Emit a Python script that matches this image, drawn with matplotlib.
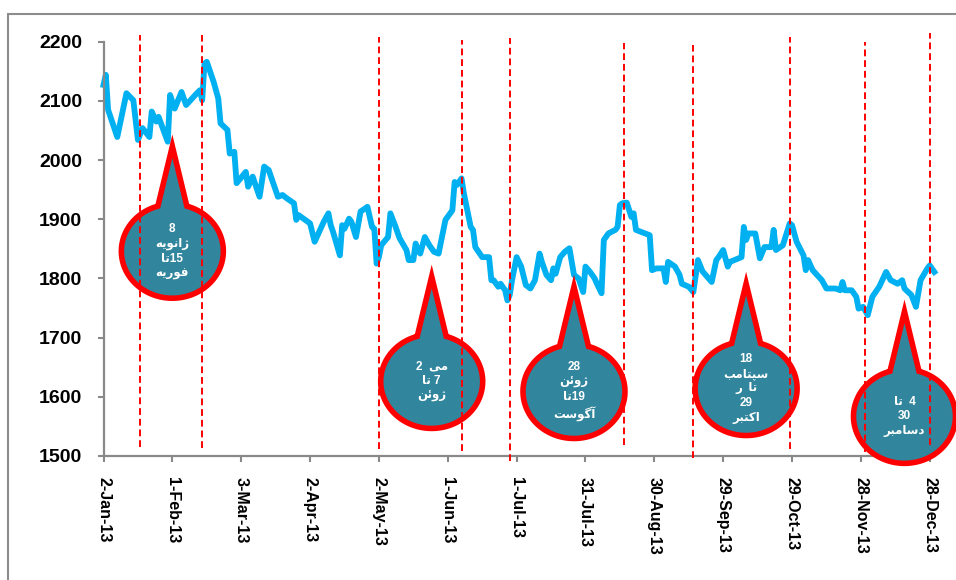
import re
import numpy as np
import pandas as pd
import matplotlib
matplotlib.use('Agg')
import matplotlib.pyplot as plt
import matplotlib.dates as mdates
from matplotlib.patches import Polygon, Rectangle
from matplotlib.transforms import ScaledTranslation

# price series
dates = ['2013-01-02', '2013-01-03', '2013-01-04', '2013-01-08', '2013-01-12', '2013-01-15',
         '2013-01-17', '2013-01-19', '2013-01-22', '2013-01-23', '2013-01-25', '2013-01-26',
         '2013-01-30', '2013-01-31', '2013-02-02', '2013-02-05', '2013-02-07', '2013-02-11',
         '2013-02-13', '2013-02-14', '2013-02-15', '2013-02-16', '2013-02-19', '2013-02-21',
         '2013-02-22', '2013-02-25', '2013-02-26', '2013-02-28', '2013-03-01', '2013-03-05',
         '2013-03-06', '2013-03-08', '2013-03-11', '2013-03-13', '2013-03-15', '2013-03-19',
         '2013-03-21', '2013-03-23', '2013-03-26', '2013-03-27', '2013-03-28', '2013-04-02',
         '2013-04-04', '2013-04-08', '2013-04-10', '2013-04-11', '2013-04-12', '2013-04-15',
         '2013-04-16', '2013-04-17', '2013-04-19', '2013-04-20', '2013-04-22', '2013-04-24',
         '2013-04-27', '2013-04-29', '2013-04-30', '2013-05-01', '2013-05-02', '2013-05-03',
         '2013-05-06', '2013-05-07', '2013-05-09', '2013-05-11', '2013-05-14', '2013-05-15',
         '2013-05-17', '2013-05-18', '2013-05-19', '2013-05-20', '2013-05-22', '2013-05-24',
         '2013-05-26', '2013-05-28', '2013-05-31', '2013-06-03', '2013-06-04', '2013-06-05',
         '2013-06-07', '2013-06-08', '2013-06-11', '2013-06-12', '2013-06-13', '2013-06-16',
         '2013-06-19', '2013-06-20', '2013-06-21', '2013-06-23', '2013-06-24', '2013-06-26',
         '2013-06-27', '2013-06-28', '2013-06-29', '2013-07-01', '2013-07-03', '2013-07-05',
         '2013-07-07', '2013-07-09', '2013-07-11', '2013-07-12', '2013-07-14', '2013-07-16',
         '2013-07-17', '2013-07-18', '2013-07-20', '2013-07-22', '2013-07-24', '2013-07-26',
         '2013-07-28', '2013-07-30', '2013-07-31', '2013-08-02', '2013-08-04', '2013-08-05',
         '2013-08-07', '2013-08-08', '2013-08-10', '2013-08-13', '2013-08-14', '2013-08-15',
         '2013-08-16', '2013-08-18', '2013-08-20', '2013-08-21', '2013-08-22', '2013-08-26',
         '2013-08-28', '2013-08-29', '2013-08-31', '2013-09-03', '2013-09-04', '2013-09-05',
         '2013-09-08', '2013-09-10', '2013-09-11', '2013-09-14', '2013-09-16', '2013-09-18',
         '2013-09-20', '2013-09-22', '2013-09-24', '2013-09-26', '2013-09-27', '2013-09-29',
         '2013-10-01', '2013-10-02', '2013-10-07', '2013-10-08', '2013-10-09', '2013-10-10',
         '2013-10-13', '2013-10-15', '2013-10-17', '2013-10-20', '2013-10-21', '2013-10-22',
         '2013-10-25', '2013-10-28', '2013-10-29', '2013-10-31', '2013-11-03', '2013-11-04',
         '2013-11-05', '2013-11-07', '2013-11-11', '2013-11-13', '2013-11-17', '2013-11-19',
         '2013-11-20', '2013-11-21', '2013-11-24', '2013-11-26', '2013-11-27', '2013-11-29',
         '2013-12-01', '2013-12-03', '2013-12-06', '2013-12-09', '2013-12-11', '2013-12-14',
         '2013-12-16', '2013-12-17', '2013-12-20', '2013-12-22', '2013-12-24', '2013-12-27',
         '2013-12-28', '2013-12-30']
values = [2127, 2144, 2085, 2039, 2113, 2101,
          2034, 2054, 2039, 2082, 2065, 2073,
          2031, 2110, 2087, 2115, 2093, 2110,
          2118, 2101, 2163, 2166, 2132, 2104,
          2062, 2051, 2011, 2014, 1961, 1980,
          1955, 1972, 1938, 1989, 1983, 1938,
          1941, 1935, 1927, 1899, 1907, 1893,
          1862, 1896, 1910, 1890, 1879, 1839,
          1890, 1884, 1901, 1896, 1870, 1913,
          1921, 1887, 1884, 1825, 1836, 1856,
          1870, 1910, 1890, 1868, 1848, 1831,
          1831, 1859, 1848, 1842, 1870, 1856,
          1845, 1842, 1899, 1915, 1963, 1958,
          1969, 1944, 1887, 1882, 1853, 1836,
          1836, 1797, 1797, 1786, 1791, 1780,
          1763, 1772, 1797, 1836, 1820, 1789,
          1783, 1797, 1842, 1828, 1806, 1797,
          1817, 1808, 1836, 1845, 1851, 1806,
          1800, 1777, 1820, 1811, 1800, 1791,
          1775, 1865, 1876, 1882, 1887, 1924,
          1927, 1928, 1904, 1910, 1882, 1876,
          1873, 1814, 1817, 1817, 1794, 1828,
          1820, 1806, 1791, 1786, 1777, 1831,
          1812, 1803, 1794, 1831, 1836, 1848,
          1820, 1828, 1836, 1887, 1865, 1876,
          1876, 1834, 1853, 1853, 1882, 1848,
          1856, 1893, 1890, 1862, 1839, 1814,
          1831, 1814, 1797, 1783, 1783, 1780,
          1794, 1780, 1780, 1769, 1749, 1752,
          1738, 1769, 1786, 1811, 1797, 1791,
          1797, 1783, 1772, 1752, 1797, 1817,
          1822, 1811]

tick_dates = ['2013-01-02', '2013-02-01', '2013-03-03', '2013-04-02', '2013-05-02', '2013-06-01',
              '2013-07-01', '2013-07-31', '2013-08-30', '2013-09-29', '2013-10-29', '2013-11-28',
              '2013-12-28']
tick_labels = ['2-Jan-13', '1-Feb-13', '3-Mar-13', '2-Apr-13', '2-May-13', '1-Jun-13',
               '1-Jul-13', '31-Jul-13', '30-Aug-13', '29-Sep-13', '29-Oct-13', '28-Nov-13',
               '28-Dec-13']
y_ticks = [1500, 1600, 1700, 1800, 1900, 2000, 2100, 2200]

# red dashed period markers
marker_dates = ['2013-01-18', '2013-02-14', '2013-05-02', '2013-06-07', '2013-06-28',
                '2013-08-17', '2013-09-16', '2013-10-28', '2013-11-30', '2013-12-28']
marker_top = [2211, 2211, 2208, 2203, 2206, 2198, 2194, 2208, 2199, 2215]
marker_bottom = [1515, 1513, 1512, 1508, 1491, 1518, 1496, 1512, 1506, 1518]

# callouts (lines written in left-to-right visual run order)
callout_dates = ['2013-02-01', '2013-05-25', '2013-07-26', '2013-10-09', '2013-12-17']
callout_values = [1846, 1626, 1609, 1614, 1567]
callout_lines = [
    ['8', 'ژانویه', 'تا15', 'فوریه'],
    ['2  می', 'تا 7', 'ژوئن'],
    ['28', 'ژوئن', 'تا19', 'آگوست'],
    ['18', 'سپتامب', 'ر  تا', '29', 'اکتبر'],
    ['تا  4', '30', 'دسامبر'],
]

# isolated, final, initial, medial presentation forms
FORMS = {
    'ا': ('\uFE8D', '\uFE8E', None, None),
    'آ': ('\uFE81', '\uFE82', None, None),
    'ب': ('\uFE8F', '\uFE90', '\uFE91', '\uFE92'),
    'پ': ('\uFB56', '\uFB57', '\uFB58', '\uFB59'),
    'ت': ('\uFE95', '\uFE96', '\uFE97', '\uFE98'),
    'د': ('\uFEA9', '\uFEAA', None, None),
    'ر': ('\uFEAD', '\uFEAE', None, None),
    'ژ': ('\uFB8A', '\uFB8B', None, None),
    'س': ('\uFEB1', '\uFEB2', '\uFEB3', '\uFEB4'),
    'ف': ('\uFED1', '\uFED2', '\uFED3', '\uFED4'),
    'ک': ('\uFB8E', '\uFB8F', '\uFB90', '\uFB91'),
    'گ': ('\uFB92', '\uFB93', '\uFB94', '\uFB95'),
    'م': ('\uFEE1', '\uFEE2', '\uFEE3', '\uFEE4'),
    'ن': ('\uFEE5', '\uFEE6', '\uFEE7', '\uFEE8'),
    'ه': ('\uFEE9', '\uFEEA', '\uFEEB', '\uFEEC'),
    'و': ('\uFEED', '\uFEEE', None, None),
    'ی': ('\uFBFC', '\uFBFD', '\uFBFE', '\uFBFF'),
    'ئ': ('\uFE89', '\uFE8A', '\uFE8B', '\uFE8C'),
}


def shape_word(word):
    out = []
    for i, ch in enumerate(word):
        f = FORMS.get(ch)
        if f is None:
            out.append(ch)
            continue
        prev = FORMS.get(word[i - 1]) if i > 0 else None
        nxt = FORMS.get(word[i + 1]) if i + 1 < len(word) else None
        join_prev = prev is not None and prev[2] is not None
        join_next = nxt is not None and f[2] is not None
        if join_prev and join_next:
            out.append(f[3])
        elif join_prev:
            out.append(f[1])
        elif join_next:
            out.append(f[2])
        else:
            out.append(f[0])
    return ''.join(reversed(out))


def visual(line):
    runs = re.findall(r'\d+|\s+|[^\d\s]+', line)
    return ''.join(r if (r[0].isdigit() or r[0].isspace()) else shape_word(r) for r in runs)


x = mdates.date2num(pd.to_datetime(dates))
axis_gray = '#898989'

fig = plt.figure(figsize=(9.56, 5.8), dpi=100)
ax = fig.add_axes([103.5 / 956, 1 - 456 / 580, 831.5 / 956, 414.3 / 580])

ax.plot(x, values, color='#00B0F0', lw=4.2, solid_joinstyle='round', zorder=2, clip_on=False)

for d, top, bot in zip(marker_dates, marker_top, marker_bottom):
    xd = mdates.date2num(pd.Timestamp(d))
    ax.plot([xd, xd], [bot, top], color='#FF0000', lw=1.4, ls=(0, (3.5, 2)),
            zorder=4, clip_on=False)

# speech-bubble callouts drawn in pixel space around their anchor
rx, ry, half_base, tip_h = 0.51, 0.47, 0.145, 1.05
t0 = np.arccos(half_base / rx)
t = np.linspace(t0, t0 - 2 * np.pi + 2 * (np.pi / 2 - t0), 120)
bubble = np.column_stack([rx * np.cos(t), ry * np.sin(t)])
bubble = np.vstack([bubble, [[0.0, tip_h]]])
for d, v, lines in zip(callout_dates, callout_values, callout_lines):
    xd = mdates.date2num(pd.Timestamp(d))
    trans = fig.dpi_scale_trans + ScaledTranslation(xd, v, ax.transData)
    ax.add_patch(Polygon(bubble, closed=True, transform=trans, facecolor='#31859C',
                         edgecolor='#FF0000', lw=4, joinstyle='miter', zorder=3,
                         clip_on=False))
    ax.text(0, 0, '\n'.join(visual(s) for s in lines), transform=trans, ha='center',
            va='center', color='white', fontsize=8.5, fontweight='bold',
            family=['Liberation Sans', 'DejaVu Sans'], linespacing=1.3, zorder=5)

ax.set_xlim(x[0], mdates.date2num(pd.Timestamp('2013-12-30')) + 0.3)
ax.set_ylim(1500, 2200)
ax.set_xticks(mdates.date2num(pd.to_datetime(tick_dates)))
ax.set_xticklabels(tick_labels, rotation=-90, fontsize=11.5, fontweight='bold',
                   family='Liberation Sans')
ax.set_yticks(y_ticks)
ax.set_yticklabels([str(v) for v in y_ticks], fontsize=14, fontweight='bold',
                   family='Liberation Sans')
ax.tick_params(direction='out', length=4.3, width=1.5, color=axis_gray, pad=11)

for side in ['top', 'right']:
    ax.spines[side].set_visible(False)
for side in ['left', 'bottom']:
    ax.spines[side].set_color(axis_gray)
    ax.spines[side].set_linewidth(1.6)

# chart-area border
fig.patches.append(Rectangle((8 / 956, -0.1), 1.2, 1.1 - 14 / 580, transform=fig.transFigure,
                             fill=False, edgecolor='#8C8C8C', lw=1.5))

fig.savefig('out.png', dpi=100)
